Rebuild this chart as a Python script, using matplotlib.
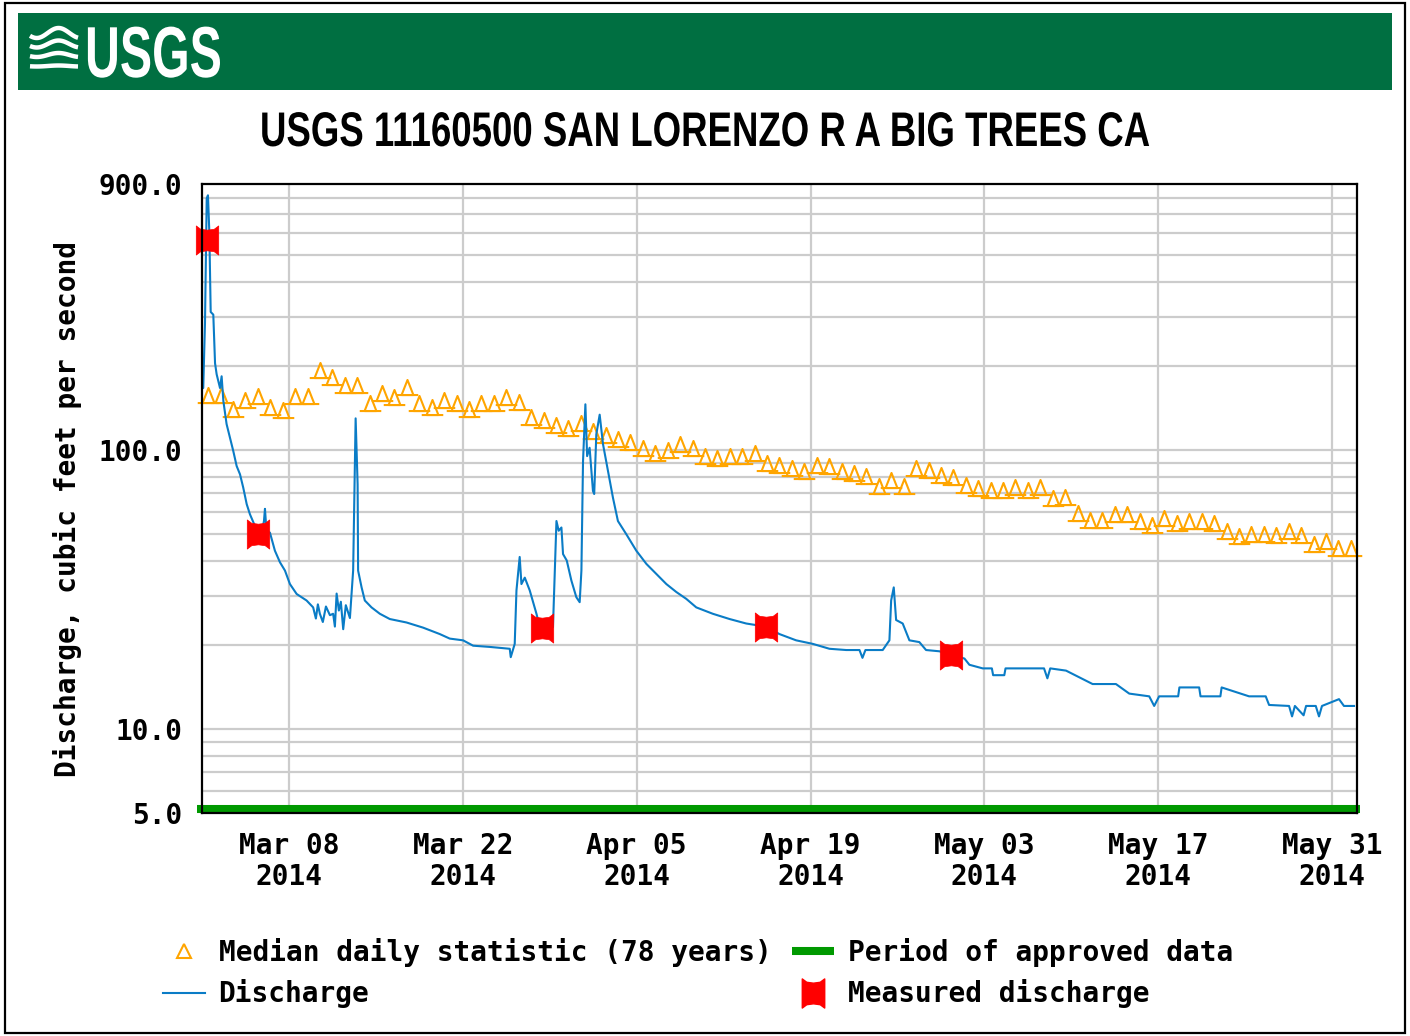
import numpy as np
import pandas as pd
import matplotlib
matplotlib.use('Agg')
import matplotlib.pyplot as plt
from matplotlib.path import Path
from matplotlib.lines import Line2D
from matplotlib.patches import Rectangle
from matplotlib.patheffects import AbstractPathEffect
from matplotlib.transforms import Affine2D
import matplotlib.dates as mdates

# ---------------- data ----------------
title = 'USGS 11160500 SAN LORENZO R A BIG TREES CA'
start_date = '2014-03-01'
end_date = '2014-06-02'

# median daily statistic, one value per day from Mar 1 to Jun 1
median_values = [158, 158, 141, 151, 157, 143, 139, 157, 157, 194,
                 183, 171, 171, 147, 160, 155, 169, 147, 143, 151,
                 147, 141, 147, 147, 155, 149, 132, 128, 123, 120,
                 125, 117, 113, 110, 107, 102, 97.6, 100, 105, 102,
                 95, 93.6, 95, 95, 97.6, 89.9, 88.6, 86.2, 83.9, 88.6,
                 87.7, 84, 83, 80.5, 74.2, 78.3, 74.2, 86.2, 85, 81.6,
                 79.9, 74.8, 73.2, 72.2, 72.2, 73.6, 72.2, 73.6, 67.4, 67.8,
                 59.6, 56.3, 56.3, 59.1, 59.1, 55.9, 54.1, 56.9, 54.9, 55.6,
                 55.6, 54.9, 51.2, 49.2, 50.0, 50.0, 49.6, 51.4, 49.6, 45.9,
                 47.2, 44.7, 44.7]

# discharge (days since Mar 1 00:00, cfs)
discharge_days = [0.05, 0.10, 0.24, 0.38, 0.48, 0.59, 0.70, 0.91, 1.05, 1.18,
                  1.45, 1.58, 1.72, 1.98, 2.25, 2.52, 2.79, 3.06, 3.32, 3.60,
                  3.86, 4.26, 4.83, 4.99, 5.07, 5.19, 5.47, 5.87, 6.28, 6.68,
                  7.08, 7.62, 8.42, 8.95, 9.17, 9.33, 9.49, 9.73, 9.98, 10.30,
                  10.56, 10.70, 10.84, 11.02, 11.18, 11.37, 11.58, 11.91, 12.17, 12.37,
                  12.53, 12.57, 12.85, 13.11, 13.65, 14.32, 15.12, 16.47, 17.80, 19.15,
                  19.95, 21.02, 21.83, 23.17, 24.78, 24.86, 25.10, 25.18, 25.32, 25.58,
                  25.72, 25.99, 26.39, 26.93, 27.19, 27.84, 28.26, 28.54, 28.72, 28.94,
                  29.07, 29.37, 29.74, 30.14, 30.41, 30.55, 30.68, 30.87, 31.01, 31.21,
                  31.48, 31.58, 31.75, 32.02, 32.29, 32.69, 33.09, 33.49, 34.17, 34.97,
                  35.78, 36.58, 37.39, 38.19, 38.99, 39.80, 41.13, 42.48, 43.82, 45.37,
                  46.50, 47.84, 49.18, 50.52, 51.87, 52.94, 53.18, 53.42, 54.81, 55.35,
                  55.49, 55.70, 55.89, 56.42, 56.96, 57.76, 58.30, 59.38, 60.34, 61.39,
                  61.79, 62.86, 63.60, 63.70, 64.60, 64.70, 65.54, 67.80, 68.07, 68.30,
                  69.57, 71.71, 73.59, 74.66, 76.27, 76.67, 77.07, 78.60, 78.70, 80.29,
                  80.40, 82.00, 82.10, 84.31, 85.65, 85.92, 87.53, 87.77, 88.00, 88.70,
                  88.90, 89.68, 89.94, 90.18, 91.55, 91.95, 92.76]
discharge_values = [167, 167, 285, 800, 820, 606, 313, 306, 205, 187,
                    167, 184, 150, 124, 111, 99.2, 87.7, 81.9, 73.4, 64.0,
                    58.9, 53.5, 51.4, 55.7, 61.6, 51.4, 50.6, 43.6, 39.6, 37.0,
                    33.1, 30.5, 28.9, 27.3, 24.9, 28.0, 25.9, 24.2, 27.5, 25.6,
                    25.9, 23.3, 30.6, 26.6, 28.6, 22.8, 27.8, 25.0, 37.0, 130,
                    75.4, 37.0, 32.2, 28.9, 27.3, 25.9, 24.8, 24.1, 23.1, 21.9,
                    21.1, 20.8, 19.9, 19.7, 19.4, 18.1, 19.7, 20.2, 31.4, 41.4,
                    33.1, 34.9, 31.4, 25.9, 23.3, 23.2, 23.2, 55.7, 51.4, 52.8,
                    42.4, 40.2, 34.1, 29.7, 28.5, 37.0, 91.3, 146, 95.2, 102,
                    71.4, 69.6, 114, 134, 105, 84.1, 67.5, 55.7, 49.9, 43.6,
                    39.1, 36.0, 33.1, 31.0, 29.3, 27.3, 25.9, 24.8, 23.9, 23.3,
                    21.9, 20.8, 20.2, 19.4, 19.2, 19.2, 18.0, 19.2, 19.2, 20.8,
                    28.9, 32.2, 24.6, 23.9, 20.8, 20.5, 19.2, 19.0, 18.4, 17.9,
                    17.0, 16.5, 16.5, 15.6, 15.6, 16.5, 16.5, 16.5, 15.2, 16.5,
                    16.2, 14.5, 14.5, 13.4, 13.1, 12.1, 13.1, 13.1, 14.1, 14.1,
                    13.1, 13.1, 14.1, 13.1, 13.1, 12.2, 12.1, 11.1, 12.1, 11.2,
                    12.1, 12.1, 11.1, 12.1, 12.8, 12.1, 12.1]

measured_days = [0.44, 4.5, 27.35, 45.4, 60.3]
measured_values = [567, 50.1, 23.0, 23.3, 18.4]

y_tick_values = [5, 10, 100, 900]
y_tick_labels = ['5.0', '10.0', '100.0', '900.0']
y_grid_values = [6, 7, 8, 9, 20, 30, 40, 50, 60, 70, 80, 90,
                 200, 300, 400, 500, 600, 700, 800]
x_tick_dates = ['2014-03-08', '2014-03-22', '2014-04-05', '2014-04-19',
                '2014-05-03', '2014-05-17', '2014-05-31']
x_tick_labels = ['Mar 08\n2014', 'Mar 22\n2014', 'Apr 05\n2014', 'Apr 19\n2014',
                 'May 03\n2014', 'May 17\n2014', 'May 31\n2014']
legend_labels = ['Median daily statistic (78 years)', 'Discharge',
                 'Period of approved data', 'Measured discharge']

# ---------------- styles ----------------
ORANGE = '#FFA500'
BLUE = '#0A7CC6'
RED = '#FF0000'
GREEN_BAR = '#009900'
BANNER = '#006F41'
GRID = '#CCCCCC'
MONO = dict(family='DejaVu Sans Mono', weight='bold', size=20)
SANS = ['Liberation Sans', 'DejaVu Sans']


class StretchX(AbstractPathEffect):
    """Horizontally condense text glyphs about a fixed display x."""
    def __init__(self, sx, cx):
        super().__init__()
        self.sx = sx
        self.cx = cx

    def draw_path(self, renderer, gc, tpath, affine, rgbFace=None):
        t = affine + Affine2D().translate(-self.cx, 0).scale(self.sx, 1).translate(self.cx, 0)
        renderer.draw_path(gc, tpath, t, rgbFace)


W, H = 1410, 1036
fig = plt.figure(figsize=(W / 100, H / 100), dpi=100)
renderer = fig.canvas.get_renderer()


def fx(px):
    return px / W


def fy(py):
    return 1 - py / H


def condensed_text(x_px, y_px, s, target_w, ha, **kw):
    t = fig.text(fx(x_px), fy(y_px), s, ha=ha, **kw)
    w = t.get_window_extent(renderer=renderer).width
    t.set_path_effects([StretchX(target_w / w, x_px)])
    return t


# outer border
fig.patches.append(Rectangle((fx(5), fy(1033)), fx(1400), 1030 / H, transform=fig.transFigure,
                             fill=False, edgecolor='black', linewidth=1.6, zorder=0))
# banner
fig.patches.append(Rectangle((fx(18), fy(90)), fx(1374), 77 / H, transform=fig.transFigure,
                             facecolor=BANNER, edgecolor='none', zorder=1))
# logo waves (decorative)
tt = np.linspace(0, 1, 60)
for k in range(4):
    xs = 30 + 48 * tt
    ys = 33 + k * 11 + 5 * np.sin(2 * np.pi * tt * 1.1 + 0.6) * (1 - 0.3 * k)
    fig.add_artist(Line2D(fx(xs), fy(ys), transform=fig.transFigure, color='white',
                          linewidth=3.2, solid_capstyle='butt', zorder=2))
condensed_text(85, 77, 'USGS', 137, 'left', color='white', fontsize=52,
               fontweight='bold', family=SANS, va='baseline', zorder=3)

# title
condensed_text(705, 146, title, 890, 'center', va='baseline', fontsize=35,
               fontweight='bold', family=SANS)

# axes
ax = fig.add_axes([fx(202), fy(813), fx(1155), 629 / H])
ax.set_yscale('log')
x0 = pd.Timestamp(start_date)
x1 = pd.Timestamp(end_date)
ax.set_xlim(mdates.date2num(x0), mdates.date2num(x1))
ax.set_ylim(5, 900)

# grid
for v in y_grid_values + [10, 100]:
    ax.axhline(v, color=GRID, linewidth=1.6, zorder=1)
for d in x_tick_dates:
    ax.axvline(mdates.date2num(pd.Timestamp(d)), color=GRID, linewidth=1.6, zorder=1)

# median markers: triangle on a base plate
tri_verts = [(-0.55, -0.7), (0.0, 0.7), (0.55, -0.7), (-0.55, -0.7),
             (-1.0, -0.7), (1.0, -0.7)]
tri_codes = [Path.MOVETO, Path.LINETO, Path.LINETO, Path.CLOSEPOLY,
             Path.MOVETO, Path.LINETO]
tri_marker = Path(tri_verts, tri_codes)
median_dates = pd.date_range(pd.Timestamp(start_date) + pd.Timedelta(hours=12),
                             periods=len(median_values), freq='D')
ax.plot(median_dates, median_values, ls='none', marker=tri_marker, ms=15.5,
        mfc='none', mec=ORANGE, mew=1.5, zorder=3, clip_on=False)

# discharge
discharge_times = x0 + pd.to_timedelta(discharge_days, unit='D')
ax.plot(discharge_times, discharge_values, color=BLUE, lw=1.5, zorder=4)

# measured discharge marker
m_verts = [(-1.0, -1.3), (-0.6, -1.0), (0.0, -0.92), (0.6, -1.0), (1.0, -1.3),
           (1.0, 1.3), (0.6, 1.0), (0.0, 0.92), (-0.6, 1.0), (-1.0, 1.3), (-1.0, -1.3)]
m_codes = [Path.MOVETO] + [Path.LINETO] * 9 + [Path.CLOSEPOLY]
meas_marker = Path(m_verts, m_codes)
measured_times = x0 + pd.to_timedelta(measured_days, unit='D')
ax.plot(measured_times, measured_values, ls='none', marker=meas_marker, ms=21,
        mfc=RED, mec=RED, mew=0.5, zorder=5, clip_on=False)

# approved data bar along the bottom
bar_y = 5 * 10 ** (4 / 280)
ax.plot([mdates.date2num(x0) - 0.4, mdates.date2num(x1) + 0.25], [bar_y, bar_y],
        color=GREEN_BAR, lw=5.8, solid_capstyle='butt', zorder=6, clip_on=False)

# ticks
ax.set_yticks(y_tick_values)
ax.set_yticklabels(y_tick_labels)
ax.yaxis.set_minor_locator(matplotlib.ticker.NullLocator())
ax.set_xticks([mdates.date2num(pd.Timestamp(d)) for d in x_tick_dates])
ax.set_xticklabels(x_tick_labels, linespacing=1.1)
ax.tick_params(axis='both', length=0)
ax.tick_params(axis='y', pad=14)
ax.tick_params(axis='x', pad=14)
for lab in ax.get_xticklabels() + ax.get_yticklabels():
    lab.set_fontfamily(MONO['family'])
    lab.set_fontweight(MONO['weight'])
    lab.set_fontsize(MONO['size'])

for s in ax.spines.values():
    s.set_linewidth(1.6)
    s.set_color('black')
    s.set_zorder(7)

fig.text(fx(68), fy(509), 'Discharge, cubic feet per second', rotation=90,
         ha='center', va='center', family=MONO['family'], weight=MONO['weight'],
         size=MONO['size'])

# legend
handles = [
    Line2D([], [], ls='none', marker='^', ms=10, mfc='none', mec=ORANGE, mew=1.5),
    Line2D([], [], color=BLUE, lw=1.5),
    Line2D([], [], color=GREEN_BAR, lw=5.8, solid_capstyle='butt'),
    Line2D([], [], ls='none', marker=meas_marker, ms=21, mfc=RED, mec=RED),
]
fig.legend(handles, legend_labels, ncol=2, loc='upper left',
           bbox_to_anchor=(fx(163), fy(938)), frameon=False, prop=MONO,
           handlelength=1.5, handletextpad=0.5, columnspacing=0.75,
           labelspacing=0.45, borderpad=0, borderaxespad=0)

fig.savefig('out.png', dpi=100)
